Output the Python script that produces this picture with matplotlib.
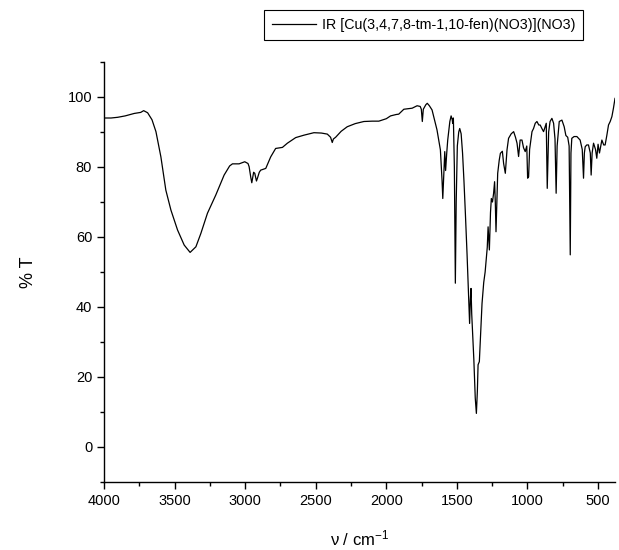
import matplotlib
matplotlib.use("Agg")
import matplotlib.pyplot as plt
from matplotlib.ticker import MultipleLocator

plt.rcParams['font.family'] = ['Liberation Sans', 'DejaVu Sans']
plt.rcParams['mathtext.fontset'] = 'custom'
plt.rcParams['mathtext.rm'] = 'Liberation Sans'
plt.rcParams['mathtext.it'] = 'Liberation Sans'

series_label = "IR [Cu(3,4,7,8-tm-1,10-fen)(NO3)](NO3)"

wavenumber = [
    4000, 3950, 3903, 3850, 3786, 3740, 3719, 3691, 3660, 3632,
    3597, 3562, 3526, 3479, 3432, 3390, 3349, 3314, 3267, 3208,
    3149, 3110, 3090, 3043, 3003, 2980, 2972, 2960, 2953, 2940,
    2932, 2920, 2913, 2900, 2890, 2854, 2819, 2784, 2736, 2701,
    2642, 2583, 2513, 2460, 2418, 2395, 2383, 2375, 2359, 2320,
    2277, 2220, 2159, 2100, 2053, 2000, 1970, 1930, 1912, 1876,
    1840, 1817, 1782, 1760, 1752, 1745, 1738, 1720, 1710, 1695,
    1676, 1641, 1617, 1605, 1600, 1593, 1586, 1580, 1572, 1565,
    1550, 1541, 1533, 1530, 1525, 1518, 1511, 1505, 1497, 1487,
    1480, 1470, 1460, 1450, 1440, 1428, 1418, 1410, 1405, 1400,
    1395, 1380, 1370, 1362, 1355, 1350, 1341, 1330, 1322, 1310,
    1300, 1291, 1285, 1279, 1270, 1262, 1256, 1248, 1240, 1233,
    1228, 1223, 1217, 1211, 1200, 1192, 1178, 1169, 1157, 1150,
    1145, 1134, 1115, 1098, 1085, 1074, 1063, 1052, 1039, 1028,
    1016, 1005, 999, 992, 985, 968, 957, 945, 933, 920,
    910, 898, 886, 875, 867, 860, 850, 840, 827, 815,
    805, 797, 790, 775, 756, 740, 728, 715, 705, 697,
    692, 686, 670, 650, 627, 612, 603, 597, 591, 580,
    568, 555, 549, 542, 532, 518, 509, 500, 490, 473,
    460, 450, 438, 426, 414, 402, 391, 380,
]

transmittance = [
    94.0, 94.0, 94.2, 94.6, 95.3, 95.6, 96.1, 95.5, 93.5, 90.1,
    82.9, 73.4, 67.7, 62.0, 57.7, 55.6, 57.2, 61.0, 66.8, 72.0,
    77.7, 80.3, 80.9, 80.9, 81.5, 81.0, 80.1, 77.0, 75.5, 78.5,
    78.2, 76.0, 76.8, 78.5, 79.1, 79.6, 82.9, 85.3, 85.6, 86.8,
    88.4, 89.1, 89.8, 89.7, 89.4, 88.5, 87.0, 88.0, 88.5, 90.2,
    91.5, 92.4, 93.0, 93.1, 93.1, 93.8, 94.6, 95.0, 95.1, 96.5,
    96.7, 96.8, 97.5, 97.3, 96.5, 93.0, 96.5, 97.8, 98.2, 97.5,
    96.3, 90.6, 84.9, 76.0, 71.0, 78.0, 84.4, 79.0, 84.0, 87.7,
    93.0, 94.6, 93.5, 92.5, 94.0, 80.0, 46.8, 70.0, 86.0, 90.0,
    91.0, 89.5, 84.0, 76.0, 66.8, 55.0, 44.0, 35.3, 42.0, 45.3,
    38.0, 25.0, 14.0, 9.6, 16.0, 23.5, 24.4, 34.0, 41.0, 47.0,
    50.0, 54.4, 57.0, 62.9, 56.3, 67.0, 71.0, 70.0, 72.5, 75.8,
    70.0, 61.5, 70.0, 78.2, 82.0, 83.9, 84.5, 81.0, 78.2, 82.0,
    84.9, 88.2, 89.5, 90.1, 88.5, 86.8, 83.0, 87.7, 87.7, 85.5,
    84.4, 86.0, 76.8, 77.2, 85.0, 90.1, 91.0, 92.5, 93.0, 92.0,
    92.0, 91.0, 90.1, 91.5, 92.5, 73.9, 90.0, 93.0, 93.9, 92.5,
    88.0, 72.5, 86.0, 93.0, 93.4, 91.5, 89.0, 88.5, 86.0, 54.9,
    84.0, 88.2, 88.7, 88.7, 87.7, 85.0, 76.8, 84.0, 85.8, 86.3,
    86.3, 84.0, 77.7, 84.0, 86.8, 85.0, 82.5, 86.5, 84.0, 87.7,
    86.3, 86.3, 89.0, 92.0, 93.0, 94.4, 96.8, 99.6,
]

x_ticks = [4000, 3500, 3000, 2500, 2000, 1500, 1000, 500]
y_ticks = [0, 20, 40, 60, 80, 100]

fig = plt.figure(figsize=(6.19, 5.5), dpi=100)
ax = fig.add_axes([104/619, 1-482/550, (615-104)/619, (482-62)/550])

ax.plot(wavenumber, transmittance, color='black', linewidth=0.9, label=series_label)

ax.set_xlim(4000, 380)
ax.set_ylim(-10, 110)
ax.set_xticks(x_ticks)
ax.set_yticks(y_ticks)
ax.xaxis.set_minor_locator(MultipleLocator(250))
ax.yaxis.set_minor_locator(MultipleLocator(10))
ax.tick_params(which='major', direction='out', length=5, width=1, labelsize=10.5, colors='black')
ax.tick_params(which='minor', direction='out', length=3, width=1)
for s in ['top', 'right']:
    ax.spines[s].set_visible(False)
for s in ['left', 'bottom']:
    ax.spines[s].set_linewidth(1)

ax.set_ylabel('% T', fontsize=13)
ax.yaxis.set_label_coords(-(104-37)/511, 0.5)
ax.set_xlabel(r'ν / cm$^{\mathregular{-1}}$', fontsize=12)
ax.xaxis.set_label_coords(0.5, -(529-482)/420)

leg = fig.legend(loc='upper right', bbox_to_anchor=(583/619, 1-10/550), borderaxespad=0,
                 fancybox=False, edgecolor='black', framealpha=1, fontsize=10.3,
                 handlelength=3.1, borderpad=0.55, handletextpad=0.4)
leg.get_frame().set_linewidth(0.8)

fig.savefig('out.png', dpi=100)
